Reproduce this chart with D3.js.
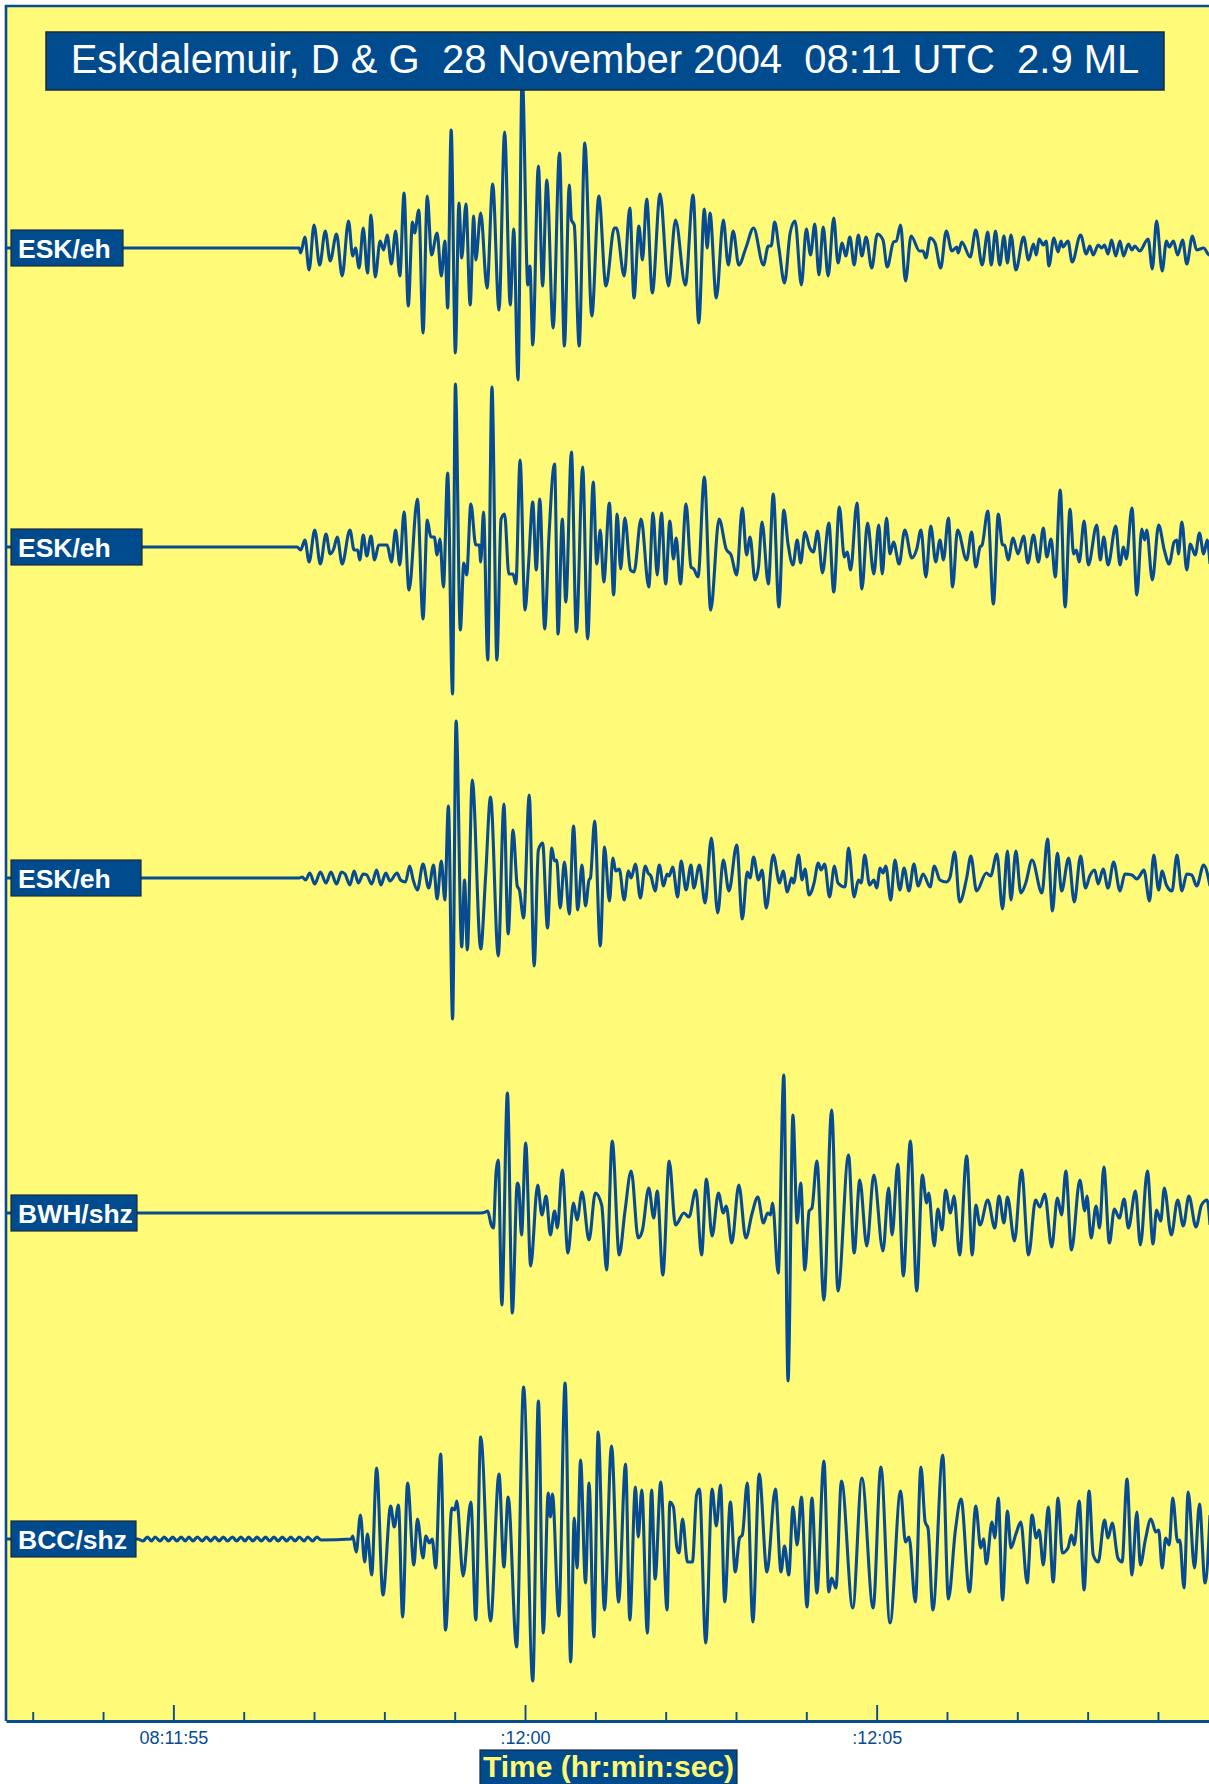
<!DOCTYPE html>
<html>
<head>
<meta charset="utf-8">
<script src="https://cdn.jsdelivr.net/npm/d3@7"></script>
<style>
  html, body { margin: 0; padding: 0; background: #ffffff; }
  svg { display: block; font-family: 'Liberation Sans', Arial, sans-serif; }
</style>
</head>
<body>
<svg id="seismogram"></svg>
<script>
'use strict';

/*
    Data
*/

const TITLE      = 'Eskdalemuir, D & G  28 November 2004  08:11 UTC  2.9 ML';
const AXIS_TITLE = 'Time (hr:min:sec)';
const STATIONS   = ['ESK/eh', 'ESK/eh', 'ESK/eh', 'BWH/shz', 'BCC/shz'];

// Time is in seconds after 08:11:50 UTC
const TIME_RANGE  = [2.62, 19.74];
const MAJOR_TICKS = [5, 10, 15];
const TICK_LABELS = ['08:11:55', ':12:00', ':12:05'];
const MINOR_TICKS = [3, 4, 6, 7, 8, 9, 11, 12, 13, 14, 16, 17, 18, 19];

// Trace extrema: [seconds after 08:11:50, amplitude (counts)]
const ESK_EH_1 = [
    [2.62,0],[6.79,0],[6.81,-5],[6.87,11],[6.93,-22],[7.00,23],[7.08,-17],[7.16,17],[7.23,-13],[7.32,14],
    [7.40,-28],[7.49,27],[7.55,-8],[7.59,0],[7.64,-20],[7.70,20],[7.76,-25],[7.81,33],[7.87,-29],[7.94,7],
    [7.99,-2],[8.04,13],[8.10,-16],[8.16,17],[8.22,-28],[8.28,55],[8.34,-58],[8.40,26],[8.43,15],[8.49,38],
    [8.55,-85],[8.61,52],[8.67,-7],[8.75,15],[8.81,-28],[8.86,7],[8.90,-60],[8.95,118],[9.01,-105],[9.06,45],
    [9.10,-10],[9.16,44],[9.22,-57],[9.27,32],[9.30,-12],[9.37,35],[9.46,-40],[9.54,64],[9.63,-62],[9.71,116],
    [9.79,-57],[9.84,19],[9.90,-132],[9.96,175],[10.04,-37],[10.07,-18],[10.11,-97],[10.19,82],[10.25,-38],[10.31,68],
    [10.40,-80],[10.49,95],[10.56,-98],[10.63,63],[10.66,28],[10.70,23],[10.77,-98],[10.85,105],[10.95,-68],[11.05,52],
    [11.15,-38],[11.27,20],[11.30,20],[11.41,-28],[11.49,40],[11.55,-50],[11.62,22],[11.67,-12],[11.73,49],[11.81,-45],
    [11.92,54],[12.04,-38],[12.14,28],[12.28,-37],[12.39,53],[12.47,-75],[12.55,39],[12.59,0],[12.63,35],[12.72,-50],
    [12.82,28],[12.89,-17],[12.96,17],[13.04,-17],[13.14,0],[13.25,20],[13.39,-17],[13.46,2],[13.50,2],[13.55,26],
    [13.61,0],[13.69,-35],[13.77,15],[13.84,27],[13.93,-37],[14.00,19],[14.06,-7],[14.12,24],[14.18,-27],[14.24,21],
    [14.31,-28],[14.39,30],[14.45,-15],[14.51,5],[14.56,-8],[14.62,11],[14.68,-17],[14.74,13],[14.79,-8],[14.85,11],
    [14.93,-20],[15.01,14],[15.09,8],[15.15,-19],[15.24,6],[15.28,7],[15.34,23],[15.41,-33],[15.49,12],[15.61,-3],
    [15.66,-3],[15.70,-10],[15.76,10],[15.83,5],[15.91,-20],[15.99,17],[16.07,-3],[16.14,1],[16.16,-5],[16.21,6],
    [16.33,-9],[16.41,18],[16.50,-17],[16.58,16],[16.63,-17],[16.69,17],[16.75,-17],[16.81,12],[16.86,-15],[16.91,13],
    [16.98,-22],[17.09,11],[17.16,-12],[17.23,4],[17.27,-7],[17.31,9],[17.37,3],[17.41,7],[17.45,-18],[17.52,10],
    [17.58,-4],[17.62,7],[17.65,1],[17.72,7],[17.78,-14],[17.90,13],[17.98,-6],[18.03,2],[18.08,-7],[18.15,3],
    [18.20,0],[18.24,3],[18.29,-6],[18.34,8],[18.40,-8],[18.46,7],[18.51,-8],[18.58,4],[18.63,-2],[18.67,2],
    [18.74,-3],[18.86,9],[18.92,-21],[18.98,27],[19.06,-23],[19.12,7],[19.16,1],[19.22,7],[19.28,-7],[19.35,8],
    [19.41,-16],[19.49,12],[19.55,-2],[19.65,0],[19.73,-7],[19.76,-3]
];

const ESK_EH_2 = [
    [2.62,0],[6.76,0],[6.81,-3],[6.87,7],[6.93,-15],[7.01,17],[7.09,-17],[7.17,13],[7.23,-7],[7.28,-2],
    [7.33,10],[7.40,-17],[7.51,17],[7.57,-3],[7.62,-3],[7.65,-13],[7.70,12],[7.75,-9],[7.81,11],[7.86,-13],
    [7.92,2],[8.04,2],[8.10,-15],[8.16,17],[8.22,-18],[8.28,35],[8.35,-43],[8.47,48],[8.55,-72],[8.61,27],
    [8.66,10],[8.71,10],[8.75,-8],[8.79,8],[8.84,-40],[8.90,74],[8.97,-147],[9.01,163],[9.08,-83],[9.13,-16],
    [9.17,-28],[9.23,43],[9.30,2],[9.35,2],[9.37,-15],[9.41,35],[9.47,-113],[9.53,160],[9.60,-113],[9.66,28],
    [9.71,33],[9.77,-27],[9.83,-27],[9.87,-37],[9.93,87],[10.00,-63],[10.05,-18],[10.11,45],[10.16,-23],[10.21,48],
    [10.28,-82],[10.34,10],[10.42,83],[10.47,-87],[10.53,28],[10.58,-55],[10.66,95],[10.73,-85],[10.82,80],[10.89,-92],
    [10.97,65],[11.02,-17],[11.07,17],[11.12,-35],[11.20,44],[11.26,-48],[11.31,33],[11.36,-22],[11.42,29],[11.50,-23],
    [11.55,-25],[11.65,28],[11.76,-40],[11.82,34],[11.88,-28],[11.94,34],[12.00,-37],[12.06,26],[12.11,-12],[12.15,9],
    [12.21,-37],[12.29,43],[12.36,-20],[12.40,-22],[12.46,-30],[12.55,70],[12.64,-63],[12.76,28],[12.86,-2],[12.93,-8],
    [13.01,-28],[13.09,39],[13.15,-8],[13.20,10],[13.27,-33],[13.32,-20],[13.37,25],[13.46,-37],[13.53,53],[13.61,-60],
    [13.68,37],[13.74,3],[13.81,-18],[13.87,7],[13.92,-16],[13.98,15],[14.05,-1],[14.10,-5],[14.16,16],[14.23,-26],
    [14.32,24],[14.39,-45],[14.47,40],[14.54,-10],[14.58,-5],[14.63,-23],[14.72,44],[14.79,-42],[14.87,24],[14.96,-27],
    [15.03,22],[15.08,-27],[15.14,29],[15.19,-7],[15.24,5],[15.32,-17],[15.40,17],[15.50,-11],[15.57,-2],[15.63,17],
    [15.70,-30],[15.77,21],[15.84,-15],[15.90,7],[15.95,-13],[16.02,29],[16.08,-40],[16.15,17],[16.28,-13],[16.35,15],
    [16.41,-20],[16.47,0],[16.50,2],[16.58,36],[16.66,-57],[16.73,33],[16.79,2],[16.82,2],[16.87,-13],[16.94,9],
    [17.01,-7],[17.09,11],[17.15,-16],[17.23,12],[17.30,-15],[17.37,19],[17.42,-10],[17.48,8],[17.54,-30],[17.61,57],
    [17.68,-60],[17.75,38],[17.80,-7],[17.84,-3],[17.88,-15],[17.95,26],[18.01,-18],[18.13,22],[18.18,-13],[18.23,10],
    [18.29,-18],[18.40,21],[18.46,-18],[18.51,0],[18.55,-12],[18.63,39],[18.70,-48],[18.77,18],[18.81,7],[18.84,17],
    [18.92,-33],[19.01,22],[19.09,-3],[19.16,-17],[19.23,5],[19.27,7],[19.29,-7],[19.34,25],[19.41,-23],[19.46,3],
    [19.53,-8],[19.59,14],[19.65,-7],[19.70,7],[19.74,-17]
];

const ESK_EH_3 = [
    [2.62,0],[6.79,0],[6.83,1],[6.88,-2],[6.94,5],[7.01,-6],[7.09,6],[7.17,-5],[7.24,6],[7.32,-6],
    [7.39,6],[7.44,4],[7.51,-7],[7.57,7],[7.63,-5],[7.70,4],[7.75,3],[7.82,-6],[7.89,8],[7.95,-7],
    [8.02,5],[8.08,-3],[8.18,5],[8.23,-2],[8.30,-4],[8.36,12],[8.41,-2],[8.47,-12],[8.55,14],[8.63,-10],
    [8.70,13],[8.75,-21],[8.81,17],[8.86,-22],[8.91,72],[8.97,-141],[9.02,157],[9.10,-69],[9.14,-2],[9.18,-72],
    [9.25,98],[9.37,-71],[9.44,2],[9.51,81],[9.62,-78],[9.70,74],[9.76,-56],[9.83,48],[9.89,-8],[9.92,-12],
    [9.98,-40],[10.06,83],[10.13,-88],[10.19,28],[10.25,35],[10.32,-50],[10.38,30],[10.42,17],[10.45,18],[10.50,-30],
    [10.56,16],[10.63,-36],[10.69,52],[10.75,-32],[10.81,13],[10.86,-28],[10.91,-2],[10.93,0],[10.99,57],[11.07,-68],
    [11.13,31],[11.20,-23],[11.25,20],[11.29,7],[11.34,9],[11.41,-22],[11.47,7],[11.51,0],[11.57,14],[11.64,-20],
    [11.71,12],[11.75,5],[11.79,2],[11.85,-13],[11.91,13],[11.97,-8],[12.02,4],[12.05,2],[12.10,11],[12.17,-19],
    [12.22,17],[12.29,-12],[12.36,13],[12.40,-10],[12.48,13],[12.56,-25],[12.65,40],[12.74,-35],[12.82,18],[12.90,-13],
    [13.01,33],[13.09,-41],[13.16,6],[13.20,0],[13.25,21],[13.32,-2],[13.37,8],[13.43,-30],[13.53,23],[13.62,-5],
    [13.67,7],[13.73,-14],[13.79,0],[13.82,-5],[13.89,23],[13.94,-2],[13.98,9],[14.04,-17],[14.11,-5],[14.17,15],
    [14.21,8],[14.26,14],[14.33,-19],[14.40,12],[14.45,-5],[14.55,-9],[14.60,30],[14.68,-19],[14.74,-2],[14.78,-5],
    [14.83,23],[14.90,-7],[14.96,-2],[15.00,-10],[15.05,10],[15.09,5],[15.13,12],[15.20,-22],[15.26,18],[15.33,-12],
    [15.39,10],[15.46,-13],[15.53,14],[15.59,-8],[15.66,4],[15.76,-9],[15.82,12],[15.90,-2],[15.99,-4],[16.04,0],
    [16.11,26],[16.18,-24],[16.28,0],[16.34,22],[16.42,-13],[16.56,5],[16.62,2],[16.71,24],[16.79,-31],[16.86,27],
    [16.91,-22],[16.98,27],[17.05,-15],[17.12,-5],[17.21,18],[17.35,-15],[17.43,39],[17.50,-33],[17.57,25],[17.63,-13],
    [17.73,20],[17.81,-24],[17.90,22],[17.97,-10],[18.03,2],[18.10,8],[18.15,-6],[18.22,9],[18.29,-10],[18.37,16],
    [18.46,-13],[18.53,4],[18.63,3],[18.70,-1],[18.74,2],[18.80,8],[18.88,-23],[18.94,23],[19.01,-12],[19.06,7],
    [19.12,-7],[19.20,-13],[19.27,23],[19.34,-13],[19.41,4],[19.48,3],[19.55,-8],[19.65,13],[19.74,-8]
];

const BWH_SHZ = [
    [2.62,0],[9.37,0],[9.44,1],[9.47,2],[9.52,-12],[9.55,-15],[9.59,42],[9.62,53],[9.67,-92],[9.75,120],
    [9.82,-100],[9.89,30],[9.91,27],[9.95,-22],[10.01,70],[10.08,-53],[10.18,28],[10.24,-2],[10.30,17],[10.36,-22],
    [10.42,2],[10.46,-15],[10.53,43],[10.61,-40],[10.69,10],[10.74,-7],[10.81,21],[10.91,-27],[11.00,20],[11.09,8],
    [11.16,-57],[11.24,72],[11.34,-42],[11.42,1],[11.51,42],[11.61,-25],[11.67,-17],[11.76,25],[11.83,-5],[11.88,22],
    [11.96,-62],[12.05,52],[12.14,-12],[12.26,0],[12.33,-4],[12.43,23],[12.51,-42],[12.58,34],[12.66,-23],[12.75,20],
    [12.82,0],[12.86,7],[12.94,-30],[13.04,28],[13.14,-25],[13.23,0],[13.31,16],[13.39,-10],[13.45,0],[13.49,-2],
    [13.52,10],[13.60,-60],[13.68,138],[13.74,-168],[13.81,98],[13.87,-10],[13.92,30],[13.98,-57],[14.04,2],[14.08,5],
    [14.15,52],[14.25,-87],[14.36,103],[14.45,-78],[14.60,58],[14.68,-40],[14.76,33],[14.86,-33],[14.96,38],[15.09,-38],
    [15.17,25],[15.22,-22],[15.30,49],[15.38,-63],[15.48,72],[15.57,-78],[15.65,38],[15.71,10],[15.74,20],[15.82,-33],
    [15.87,4],[15.93,-17],[15.98,23],[16.05,0],[16.10,17],[16.18,-42],[16.28,57],[16.36,-42],[16.41,8],[16.47,-12],
    [16.58,13],[16.68,-15],[16.74,17],[16.81,-10],[16.86,16],[16.96,-28],[17.06,43],[17.16,-42],[17.26,13],[17.32,6],
    [17.39,19],[17.49,-34],[17.57,15],[17.63,-2],[17.69,42],[17.77,-37],[17.89,33],[17.96,2],[17.99,17],[18.05,-25],
    [18.12,7],[18.17,-15],[18.23,46],[18.31,-30],[18.38,4],[18.45,-5],[18.52,14],[18.58,-15],[18.68,22],[18.75,-32],
    [18.85,42],[18.93,-31],[18.98,3],[19.04,-8],[19.09,25],[19.19,-22],[19.28,13],[19.36,-13],[19.44,17],[19.54,-14],
    [19.62,8],[19.70,13],[19.74,-12]
];

const BCC_SHZ = [
    [2.62,0],[4.49,0],[4.57,-2],[4.63,2],[4.69,-2],[4.74,2],[4.81,-2],[4.87,2],[4.93,-2],[4.99,2],
    [5.05,-2],[5.11,2],[5.17,-2],[5.22,2],[5.28,-2],[5.34,2],[5.41,-2],[5.47,2],[5.53,-2],[5.59,2],
    [5.65,-2],[5.71,2],[5.77,-2],[5.84,2],[5.90,-2],[5.96,2],[6.02,-2],[6.07,2],[6.13,-2],[6.19,2],
    [6.25,-2],[6.31,2],[6.37,-2],[6.43,2],[6.49,-2],[6.55,2],[6.61,-2],[6.67,2],[6.73,-2],[6.79,2],
    [6.86,-2],[6.91,2],[6.98,-2],[7.04,2],[7.10,-1],[7.53,0],[7.55,3],[7.60,-13],[7.66,24],[7.72,-23],
    [7.76,5],[7.82,-36],[7.89,71],[7.98,-56],[8.09,33],[8.14,12],[8.20,34],[8.26,-78],[8.33,56],[8.42,-26],
    [8.47,20],[8.55,-19],[8.59,3],[8.64,-4],[8.68,0],[8.73,-29],[8.80,85],[8.87,-91],[8.96,31],[9.00,29],
    [9.03,38],[9.12,-37],[9.23,37],[9.30,-81],[9.37,102],[9.51,-82],[9.63,65],[9.70,-28],[9.76,42],[9.88,-108],
    [9.98,152],[10.11,-142],[10.19,138],[10.26,-94],[10.33,46],[10.36,22],[10.39,45],[10.48,-77],[10.57,156],[10.65,-123],
    [10.70,21],[10.74,-29],[10.79,79],[10.86,-44],[10.91,56],[10.98,-98],[11.04,107],[11.13,-71],[11.23,93],[11.33,-63],
    [11.43,75],[11.49,-81],[11.57,52],[11.61,2],[11.66,49],[11.74,-94],[11.80,49],[11.85,-40],[11.93,57],[12.02,-71],
    [12.06,37],[12.11,32],[12.16,-9],[12.19,-14],[12.24,20],[12.31,-23],[12.38,-23],[12.44,44],[12.48,50],[12.57,-104],
    [12.66,50],[12.72,13],[12.78,54],[12.84,-63],[12.92,37],[12.99,-33],[13.05,1],[13.09,4],[13.16,56],[13.24,-83],
    [13.33,65],[13.44,-33],[13.56,50],[13.64,-33],[13.69,-7],[13.75,-36],[13.81,32],[13.87,-6],[13.93,42],[14.01,-68],
    [14.08,41],[14.15,-54],[14.25,78],[14.32,-53],[14.36,-39],[14.42,-49],[14.50,58],[14.66,-69],[14.79,61],[14.95,-69],
    [15.06,72],[15.19,-84],[15.34,48],[15.41,-3],[15.46,2],[15.55,-63],[15.63,72],[15.69,17],[15.73,11],[15.80,-71],
    [15.94,84],[16.02,-60],[16.12,9],[16.20,40],[16.32,-53],[16.41,33],[16.48,-9],[16.52,0],[16.56,-25],[16.64,17],
    [16.68,1],[16.73,41],[16.79,-61],[16.86,28],[16.91,-9],[16.98,5],[17.05,17],[17.14,-44],[17.21,24],[17.27,1],
    [17.31,9],[17.37,-26],[17.44,32],[17.51,-43],[17.58,41],[17.64,-14],[17.72,-9],[17.77,4],[17.81,-6],[17.88,38],
    [17.95,-51],[18.02,48],[18.08,-16],[18.15,-23],[18.24,19],[18.29,1],[18.35,16],[18.43,-19],[18.49,-23],[18.56,60],
    [18.63,-36],[18.70,27],[18.75,-26],[18.82,-1],[18.90,20],[18.97,7],[19.01,9],[19.06,-29],[19.11,1],[19.16,-6],
    [19.21,41],[19.28,-3],[19.31,-1],[19.37,-49],[19.43,47],[19.52,-29],[19.59,35],[19.67,-44],[19.74,24]
];

const TRACES = [ESK_EH_1, ESK_EH_2, ESK_EH_3, BWH_SHZ, BCC_SHZ];

/*
    Layout
*/

const CHART = Object.freeze({ WIDTH : 1209, HEIGHT : 1784 });

const PLOT = Object.freeze({
    LEFT   : 6,
    TOP    : 6,
    RIGHT  : 1210,
    BOTTOM : 1721
});

const TRACE_BASELINES = [248, 547, 878, 1213, 1539];
const LABEL_WIDTHS    = [112, 131, 130, 126, 125];

const TITLE_BOX = Object.freeze({ X : 46, Y : 32, WIDTH : 1118, HEIGHT : 58 });
const AXIS_BOX  = Object.freeze({ X : 480, Y : 1750, WIDTH : 257, HEIGHT : 36 });

const COLORS = Object.freeze({
    PAPER  : '#fffa78',
    TRACE  : '#074c93',
    BOX    : '#004b8e',
    EDGE   : '#1c2a3a',
    YELLOW : '#fff870'
});

/*
    Scales
*/

const SVG = d3.select('#seismogram')
    .attr('width', CHART.WIDTH)
    .attr('height', CHART.HEIGHT);

const xTime = d3.scaleLinear()
    .domain(TIME_RANGE)
    .range([PLOT.LEFT, PLOT.RIGHT]);

// one count of amplitude is one pixel on screen
const yAmp = d3.scaleLinear()
    .domain([-200, 200])
    .range([200, -200]);

const traceLine = d3.line()
    .x(d => xTime(d[0]))
    .y(d => yAmp(d[1]))
    .curve(d3.curveMonotoneX);

/*
    Drawing
*/

SVG.append('rect')
    .attr('x', PLOT.LEFT)
    .attr('y', PLOT.TOP)
    .attr('width', PLOT.RIGHT - PLOT.LEFT)
    .attr('height', PLOT.BOTTOM - PLOT.TOP)
    .attr('fill', COLORS.PAPER);

SVG.append('clipPath')
    .attr('id', 'plot-clip')
  .append('rect')
    .attr('x', PLOT.LEFT)
    .attr('y', PLOT.TOP)
    .attr('width', PLOT.RIGHT - PLOT.LEFT)
    .attr('height', PLOT.BOTTOM - PLOT.TOP);

const traceLayer = SVG.append('g')
    .attr('clip-path', 'url(#plot-clip)');

traceLayer.selectAll('path.trace')
    .data(TRACES)
    .join('path')
      .attr('class', 'trace')
      .attr('transform', (d, i) => `translate(0,${TRACE_BASELINES[i]})`)
      .attr('d', traceLine)
      .attr('fill', 'none')
      .attr('stroke', COLORS.TRACE)
      .attr('stroke-width', 3.1)
      .attr('stroke-linejoin', 'round');

// Title box
SVG.append('rect')
    .attr('x', TITLE_BOX.X)
    .attr('y', TITLE_BOX.Y)
    .attr('width', TITLE_BOX.WIDTH)
    .attr('height', TITLE_BOX.HEIGHT)
    .attr('fill', COLORS.BOX)
    .attr('stroke', COLORS.EDGE)
    .attr('stroke-width', 1.5);

SVG.append('text')
    .attr('x', TITLE_BOX.X + TITLE_BOX.WIDTH / 2)
    .attr('y', TITLE_BOX.Y + 41)
    .attr('text-anchor', 'middle')
    .style('white-space', 'pre')
    .attr('font-size', 40)
    .attr('fill', '#ffffff')
    .text(TITLE);

// Station labels
const labels = SVG.append('g')
    .selectAll('g.station')
    .data(STATIONS)
    .join('g')
      .attr('class', 'station')
      .attr('transform', (d, i) => `translate(11,${TRACE_BASELINES[i] - 18})`);

labels.append('rect')
    .attr('width', (d, i) => LABEL_WIDTHS[i])
    .attr('height', 36)
    .attr('fill', COLORS.BOX)
    .attr('stroke', COLORS.EDGE)
    .attr('stroke-width', 1.2);

labels.append('text')
    .attr('x', 7)
    .attr('y', 27.5)
    .attr('font-size', 26.5)
    .attr('font-weight', 'bold')
    .attr('fill', '#ffffff')
    .text(d => d);

// Time axis
const xAxisMinor = d3.axisBottom(xTime)
    .tickValues(MINOR_TICKS)
    .tickSize(-9)
    .tickSizeOuter(0)
    .tickFormat('');

const xAxisMajor = d3.axisBottom(xTime)
    .tickValues(MAJOR_TICKS)
    .tickSize(-16)
    .tickSizeOuter(0)
    .tickPadding(10)
    .tickFormat((d, i) => TICK_LABELS[i]);

const minorAxis = SVG.append('g')
    .attr('transform', `translate(0,${PLOT.BOTTOM})`)
    .call(xAxisMinor);

minorAxis.select('.domain').remove();

const majorAxis = SVG.append('g')
    .attr('transform', `translate(0,${PLOT.BOTTOM})`)
    .call(xAxisMajor);

[minorAxis, majorAxis].forEach(axis => {
    axis.selectAll('.tick line')
        .attr('stroke', COLORS.TRACE)
        .attr('stroke-width', 1.9);
});

majorAxis.select('.domain')
    .attr('stroke', COLORS.TRACE)
    .attr('stroke-width', 3);

majorAxis.selectAll('.tick text')
    .attr('fill', COLORS.TRACE)
    .attr('font-size', 18)
    .attr('font-family', "'Liberation Sans', Arial, sans-serif");

// Plot frame, left and top
SVG.append('path')
    .attr('d', `M${PLOT.LEFT},${PLOT.BOTTOM} V${PLOT.TOP} H${PLOT.RIGHT}`)
    .attr('fill', 'none')
    .attr('stroke', COLORS.TRACE)
    .attr('stroke-width', 2.6);

// Axis title
SVG.append('rect')
    .attr('x', AXIS_BOX.X)
    .attr('y', AXIS_BOX.Y)
    .attr('width', AXIS_BOX.WIDTH)
    .attr('height', AXIS_BOX.HEIGHT)
    .attr('fill', COLORS.BOX)
    .attr('stroke', COLORS.EDGE)
    .attr('stroke-width', 1.2);

SVG.append('text')
    .attr('x', AXIS_BOX.X + AXIS_BOX.WIDTH / 2)
    .attr('y', AXIS_BOX.Y + 27)
    .attr('text-anchor', 'middle')
    .attr('font-size', 30)
    .attr('font-weight', 'bold')
    .attr('fill', COLORS.YELLOW)
    .text(AXIS_TITLE);
</script>
</body>
</html>
